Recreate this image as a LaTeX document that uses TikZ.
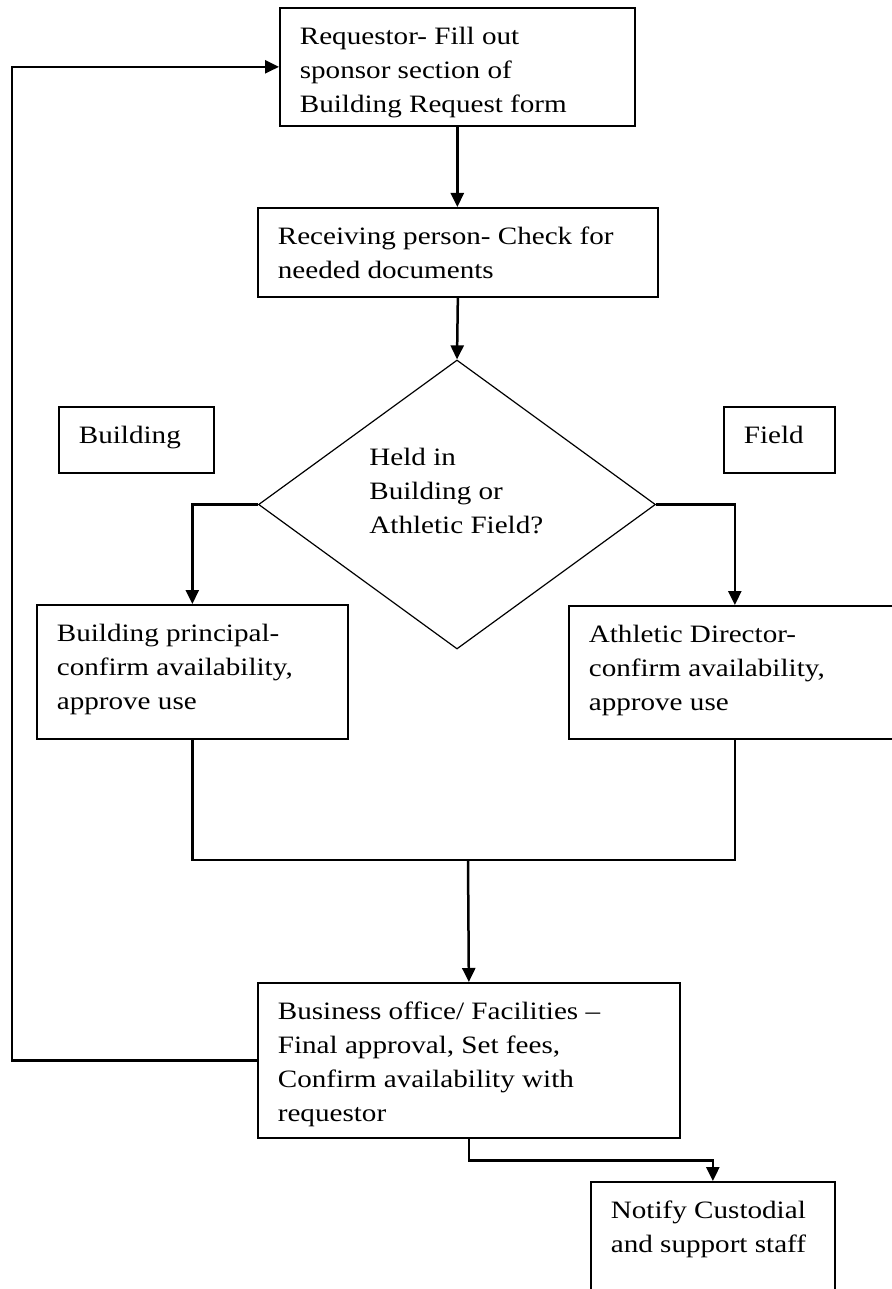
\documentclass[tikz,border=0pt]{standalone}
\usepackage{fontspec}
\setmainfont{Liberation Serif}[FakeStretch=1.165]
\usetikzlibrary{arrows.meta,shapes.geometric}
\newcommand{\boxlines}[3]{\parbox[t][#2][t]{#1}{\raggedright\rule{0pt}{18.25pt}#3}}
\tikzset{
  stepbox/.style={draw,line width=0.85pt,anchor=north west,inner xsep=10pt,inner ysep=0pt},
  decision/.style={draw,diamond,line width=0.6pt,inner sep=0pt},
  txt/.style={align=left,inner sep=0pt},
  arr/.style={-{Triangle[length=7pt,width=6.5pt]},line width=1.25pt},
  joinline/.style={line width=1.25pt}
}
\begin{document}
\begin{tikzpicture}[x=0.5pt,y=-0.5pt,font=\fontsize{12.5}{17}\selectfont]
\useasboundingbox (0,0) rectangle (892,1289);
\clip (0,0) rectangle (892,1289);

\node[stepbox] (req) at (279,7) {\boxlines{157.5pt}{59pt}{Requestor- Fill out\\sponsor section of\\Building Request form}};
\node[stepbox] (recv) at (257,207) {\boxlines{180pt}{44.5pt}{Receiving person- Check for\\needed documents}};

\node[decision, minimum width=198.5pt, minimum height=144.5pt] (held) at (457,504.5) {};
\node[txt, anchor=north west] (heldtxt) at (369,448) {Held in\\Building or\\Athletic Field?};

\node[stepbox] (bldg) at (58,406) {\boxlines{57.5pt}{33pt}{Building}};
\node[stepbox] (field) at (723,406) {\boxlines{35.5pt}{33pt}{Field}};

\node[stepbox] (prin) at (36,604) {\boxlines{135.5pt}{67pt}{Building principal-\\confirm availability,\\approve use}};
\node[stepbox] (athl) at (568,605) {\boxlines{146pt}{66.5pt}{Athletic Director-\\confirm availability,\\approve use}};

\node[stepbox] (biz) at (257,982) {\boxlines{191pt}{77.5pt}{Business office/ Facilities --\\Final approval, Set fees,\\Confirm availability with\\requestor}};
\node[stepbox] (notify) at (590,1181) {\boxlines{102pt}{60pt}{Notify Custodial\\and support staff}};

\coordinate (loopx) at (12,0);
\coordinate (join) at (468,860);

\draw[arr] (req.south) -- (req.south |- recv.north);
\draw[arr] (recv.south) -- (held.north);
\draw[arr] (held.west) -| (prin.north);
\draw[arr] (held.east) -| (athl.north);
\draw[joinline] (prin.south) |- (join) -| (athl.south);
\draw[arr] (join) -- (biz.north);
\draw[arr] (biz.south) -- ++(0,22) -| (notify.north);
\draw[arr] (biz.west) -- (biz.west -| loopx) |- (req.west);
\end{tikzpicture}
\end{document}
